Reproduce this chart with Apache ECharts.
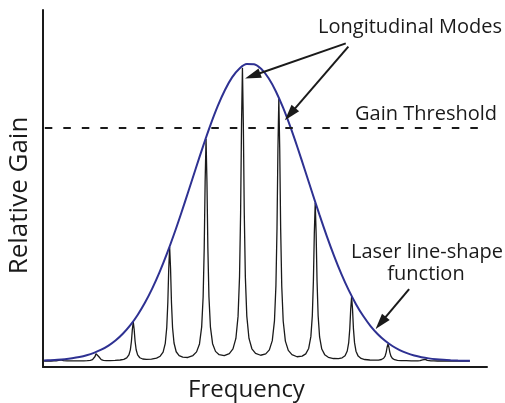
<!DOCTYPE html>
<html><head><meta charset="utf-8">
<script src="https://cdn.jsdelivr.net/npm/echarts@6/dist/echarts.min.js"></script>
<style>html,body{margin:0;padding:0;background:#fff}#c{width:505px;height:403px}</style>
</head><body><div id="c"></div>
<script>
// Laser line-shape (gain envelope): frequency (arb.) vs relative gain
const envelopeFreq = [0.3, 2, 4, 6, 8, 10, 12, 14, 16, 18, 20, 22, 24, 26, 28, 30, 32, 34, 36, 38, 40, 42, 44, 46, 48, 50, 52, 54, 56, 58, 60, 62, 64, 66, 68, 70, 72, 74, 76, 78, 80, 82, 84, 86, 88, 90, 92, 94, 96, 98, 100, 102, 104, 106, 108, 110, 112, 114, 116, 117.3];
const envelopeGain = [0.19, 0.28, 0.42, 0.63, 0.94, 1.36, 1.95, 2.75, 3.81, 5.2, 7.0, 9.27, 12.07, 15.49, 19.57, 24.33, 29.79, 35.91, 42.61, 49.77, 57.24, 64.82, 72.25, 79.29, 85.67, 91.12, 95.42, 98.37, 99.84, 99.76, 98.14, 95.05, 90.62, 85.07, 78.61, 71.52, 64.06, 56.49, 49.04, 41.91, 35.27, 29.21, 23.82, 19.13, 15.12, 11.77, 9.02, 6.8, 5.05, 3.69, 2.66, 1.88, 1.31, 0.9, 0.61, 0.41, 0.27, 0.17, 0.11, 0.08];

// Longitudinal modes trace: [frequency, relative gain]
const modeTrace = [
  [0.3,0],
  [1.2,0.01],[2.2,0.02],[3.0,0.04],[3.6,0.07],[4.0,0.14],[4.3,0.25],[4.55,0.4],[4.8,0.5],[5.05,0.4],[5.3,0.26],[5.6,0.15],[6.0,0.09],[6.6,0.05],[7.4,0.04],[8.4,0.04],[9.8,0.05],
  [11.2,0.08],[12.2,0.13],[13.0,0.24],[13.6,0.47],[14.0,0.87],[14.3,1.53],[14.55,2.43],[14.8,3.03],[15.05,2.43],[15.3,1.53],[15.6,0.88],[16.0,0.49],[16.6,0.26],[17.4,0.17],[18.4,0.17],[19.8,0.23],
  [21.2,0.35],[22.2,0.57],[23.0,1.05],[23.6,2.04],[24.0,3.78],[24.3,6.65],[24.55,10.6],[24.8,13.2],[25.05,10.6],[25.3,6.65],[25.6,3.8],[26.0,2.07],[26.6,1.11],[27.4,0.69],[28.4,0.56],[29.8,0.64],
  [31.2,0.97],[32.2,1.62],[33.0,3.03],[33.6,5.97],[34.0,11.2],[34.3,19.7],[34.55,31.0],[34.8,38.3],[35.05,31.0],[35.3,19.7],[35.6,11.2],[36.0,6.06],[36.6,3.13],[37.4,1.81],[38.4,1.31],[39.8,1.2],
  [41.2,1.84],[42.2,3.08],[43.0,5.76],[43.6,11.5],[44.0,21.5],[44.3,38.0],[44.55,60.2],[44.8,74.6],[45.05,60.2],[45.3,38.0],[45.6,21.5],[46.0,11.5],[46.6,5.83],[47.4,3.25],[48.4,2.15],[49.8,1.8],
  [51.2,2.52],[52.2,4.1],[53.0,7.6],[53.6,15.1],[54.0,28.3],[54.3,50.0],[54.55,79.5],[54.8,98.6],[55.05,79.5],[55.3,50.0],[55.6,28.3],[56.0,15.1],[56.6,7.6],[57.4,4.12],[58.4,2.56],[59.8,1.95],
  [61.2,2.42],[62.2,3.76],[63.0,6.85],[63.6,13.5],[64.0,25.3],[64.3,44.7],[64.55,71.0],[64.8,88.2],[65.05,71.0],[65.3,44.7],[65.6,25.2],[66.0,13.45],[66.6,6.71],[67.4,3.59],[68.4,2.14],[69.8,1.45],
  [71.2,1.66],[72.2,2.41],[73.0,4.23],[73.6,8.2],[74.0,15.2],[74.3,26.9],[74.55,42.8],[74.8,53.2],[75.05,42.8],[75.3,26.9],[75.6,15.2],[76.0,8.1],[76.6,4.04],[77.4,2.15],[78.4,1.25],[79.8,0.85],
  [81.2,0.82],[82.2,1.09],[83.0,1.8],[83.6,3.38],[84.0,6.22],[84.3,10.9],[84.55,17.4],[84.8,21.6],[85.05,17.4],[85.3,10.9],[85.6,6.18],[86.0,3.31],[86.6,1.66],[87.4,0.88],[88.4,0.52],[89.8,0.36],
  [91.2,0.29],[92.2,0.34],[93.0,0.52],[93.6,0.94],[94.0,1.68],[94.3,2.93],[94.55,4.64],[94.8,5.78],[95.05,4.64],[95.3,2.93],[95.6,1.65],[96.0,0.89],[96.6,0.45],[97.4,0.24],[98.4,0.14],[99.8,0.11],
  [101.2,0.06],[102.2,0.05],[103.0,0.07],[103.6,0.12],[104.0,0.22],[104.3,0.37],[104.55,0.58],[104.8,0.72],[105.05,0.58],[105.3,0.37],[105.6,0.21],[106.0,0.11],[106.6,0.06],[107.4,0.03],[108.4,0.02],[112,0.01],[117.3,0]
];

// Gain threshold level
const thresholdFreq = [0.5, 127];
const thresholdGain = 78.3;

// Annotation arrows: [start, end] in [frequency, gain]
const modeArrows = [
  [[83.2, 106.8], [57.6, 95.9]],
  [[83.9, 105.7], [67.9, 83.0]]
];
const lineShapeArrow = [[100.6, 24.2], [92.8, 12.8]];

const axisTitles = { x: 'Frequency', y: 'Relative Gain' };
const labels = { modes: 'Longitudinal Modes', threshold: 'Gain Threshold', shape1: 'Laser line-shape', shape2: 'function' };

const FONT = '"Open Sans", "Noto Sans", sans-serif';
const INK = '#1a1a1a';

function arrowItem(a) {
  return [
    { coord: a[0], symbol: 'none' },
    { coord: a[1], symbol: 'triangle', symbolSize: [10, 16] }
  ];
}

const chart = echarts.init(document.getElementById('c'), null, { renderer: 'canvas' });
chart.setOption({
  animation: false,
  backgroundColor: '#fff',
  grid: { left: 43, top: 10, width: 444, height: 357, containLabel: false, outerBoundsMode: 'none' },
  xAxis: {
    type: 'value', min: 0, max: 122,
    axisLine: { show: true, onZero: false, lineStyle: { color: INK, width: 2 } },
    axisTick: { show: false }, axisLabel: { show: false }, splitLine: { show: false },
    name: axisTitles.x, nameLocation: 'middle', nameGap: 11,
    nameTextStyle: { fontFamily: FONT, fontSize: 24, color: INK, padding: [0, 37, 0, 0] }
  },
  yAxis: {
    type: 'value', min: -2, max: 118,
    axisLine: { show: true, onZero: false, lineStyle: { color: INK, width: 2 } },
    axisTick: { show: false }, axisLabel: { show: false }, splitLine: { show: false },
    name: axisTitles.y, nameLocation: 'middle', nameGap: 10,
    nameTextStyle: { fontFamily: FONT, fontSize: 26, color: INK, padding: [0, 14, 0, 0] }
  },
  series: [
    {
      name: 'modes', type: 'line', data: modeTrace, symbol: 'none', smooth: false,
      lineStyle: { color: INK, width: 1.3 }, z: 2, silent: true
    },
    {
      name: 'envelope', type: 'line',
      data: envelopeFreq.map((f, i) => [f, envelopeGain[i]]),
      symbol: 'none', smooth: 0.3,
      lineStyle: { color: '#2e3192', width: 2 }, z: 3, silent: true
    },
    {
      name: 'threshold', type: 'line', clip: false,
      data: thresholdFreq.map(f => [f, thresholdGain]),
      symbol: 'none',
      lineStyle: { color: INK, width: 2, type: [7.5, 11] }, z: 4, silent: true,
      markLine: {
        silent: true, animation: false,
        label: { show: false },
        lineStyle: { color: INK, width: 2, type: 'solid' },
        emphasis: { disabled: true },
        data: modeArrows.map(arrowItem).concat([arrowItem(lineShapeArrow)])
      }
    }
  ],
  graphic: [
    { type: 'text', x: 502, y: 27, z: 10, style: { text: labels.modes, fontFamily: FONT, fontSize: 20, fill: INK, textAlign: 'right', align: 'right', textVerticalAlign: 'middle', verticalAlign: 'middle' } },
    { type: 'text', x: 497, y: 114, z: 10, style: { text: labels.threshold, fontFamily: FONT, fontSize: 20, fill: INK, textAlign: 'right', align: 'right', textVerticalAlign: 'middle', verticalAlign: 'middle' } },
    { type: 'text', x: 427, y: 252, z: 10, style: { text: labels.shape1, fontFamily: FONT, fontSize: 20, fill: INK, textAlign: 'center', align: 'center', textVerticalAlign: 'middle', verticalAlign: 'middle' } },
    { type: 'text', x: 426, y: 274, z: 10, style: { text: labels.shape2, fontFamily: FONT, fontSize: 20, fill: INK, textAlign: 'center', align: 'center', textVerticalAlign: 'middle', verticalAlign: 'middle' } }
  ]
});
</script></body></html>
